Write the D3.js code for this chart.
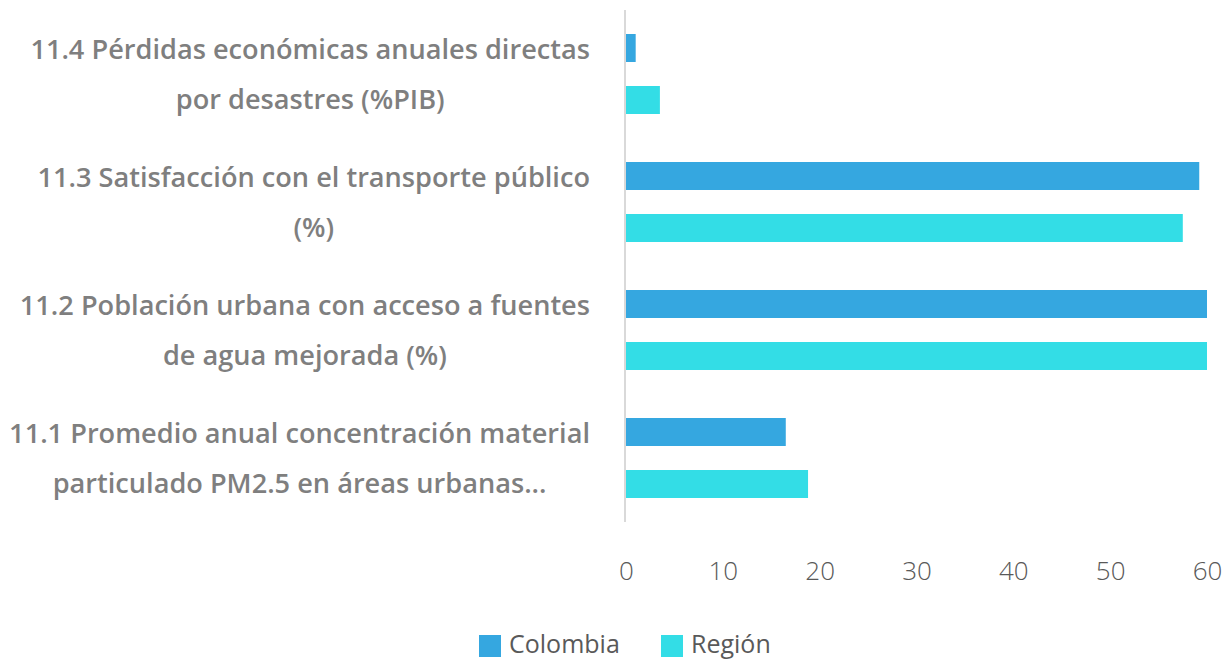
<!DOCTYPE html>
<html>
<head>
<meta charset="utf-8">
<script src="https://cdn.jsdelivr.net/npm/d3@7"></script>
<style>
  body { margin: 0; background: #fff; }
  svg { display: block; }
  .cat { font-family: "Open Sans", sans-serif; font-weight: 600; fill: #7f7f7f; }
  .tick text { font-family: "Open Sans", sans-serif; font-weight: 300; fill: #595959; }
  .legend text { font-family: "Open Sans", sans-serif; font-weight: 400; fill: #595959; }
</style>
</head>
<body>
<div id="chart"></div>
<script>
// categories, top to bottom as in the picture
var categories = [
  "11.4 Pérdidas económicas anuales directas\npor desastres (%PIB)",
  "11.3 Satisfacción con el transporte público\n(%)",
  "11.2 Población urbana con acceso a fuentes\nde agua mejorada (%)",
  "11.1 Promedio anual concentración material\nparticulado PM2.5 en áreas urbanas..."
];
var seriesNames = ["Colombia", "Región"];
var colombia = [1.0, 59.2, 60, 16.5];
var region = [3.5, 57.5, 60, 18.8];
var xTicks = [0, 10, 20, 30, 40, 50, 60];
var colors = ["#35a7e0", "#33dde6"];

var width = 1228, height = 662;
var svg = d3.select("#chart").append("svg")
    .attr("width", width)
    .attr("height", height);

var x = d3.scaleLinear().domain([0, 60]).range([626, 1207]);
var y = d3.scaleBand().domain(categories).range([10, 522]);
var ySub = d3.scaleBand().domain(seriesNames).range([0, y.bandwidth()]).padding(24 / 52);

var rows = categories.map(function(c, i) {
  return { cat: c, values: [
    { name: "Colombia", value: colombia[i] },
    { name: "Región", value: region[i] }
  ]};
});

// bars
var groups = svg.selectAll("g.row")
    .data(rows)
    .enter().append("g")
    .attr("class", "row")
    .attr("transform", function(d) { return "translate(0," + y(d.cat) + ")"; });

groups.selectAll("rect")
    .data(function(d) { return d.values; })
    .enter().append("rect")
    .attr("x", x(0))
    .attr("y", function(d) { return ySub(d.name); })
    .attr("width", function(d) { return x(Math.min(d.value, 60)) - x(0); })
    .attr("height", ySub.bandwidth())
    .attr("fill", function(d, i) { return colors[i]; });

// vertical axis line
svg.append("line")
    .attr("x1", x(0) - 1).attr("x2", x(0) - 1)
    .attr("y1", 10).attr("y2", 522)
    .attr("stroke", "#d9d9d9")
    .attr("stroke-width", 2);

// category labels, centred block whose right edge sits left of the axis
var labelRight = 590;

// pick a font size so the widest first line is about as wide as in the original
var probe = svg.append("text").attr("class", "cat").attr("font-size", 20)
    .text(categories[0].split("\n")[0]);
var fontSize = 20 * 560 / probe.node().getComputedTextLength();
probe.remove();

var cats = svg.selectAll("g.catlabel")
    .data(categories)
    .enter().append("g")
    .attr("class", "catlabel");

cats.each(function(c) {
  var g = d3.select(this);
  var lines = c.split("\n");
  var cy = y(c) + y.bandwidth() / 2;
  var t = g.append("text")
      .attr("class", "cat")
      .attr("font-size", fontSize)
      .attr("text-anchor", "middle");
  lines.forEach(function(l, i) {
    t.append("tspan")
      .attr("y", cy + (i - (lines.length - 1) / 2) * 50)
      .attr("dy", "0.35em")
      .text(l);
  });
  // width of first line sets the block's centre
  var w = t.select("tspan").node().getComputedTextLength();
  t.selectAll("tspan").attr("x", labelRight - w / 2);
});

// x axis
var xAxis = d3.axisBottom(x)
    .tickValues(xTicks)
    .tickSize(0)
    .tickPadding(0);

var ax = svg.append("g")
    .attr("transform", "translate(0,562)")
    .call(xAxis);
ax.select(".domain").remove();
ax.selectAll(".tick text")
    .attr("font-size", 26)
    .attr("dy", "0.71em");

// legend
var legend = svg.append("g").attr("class", "legend");
var lx = [479, 661];
seriesNames.forEach(function(s, i) {
  legend.append("rect")
    .attr("x", lx[i]).attr("y", 635)
    .attr("width", 22).attr("height", 22)
    .attr("fill", colors[i]);
  legend.append("text")
    .attr("x", lx[i] + 30).attr("y", 644)
    .attr("dy", "0.35em")
    .attr("font-size", 25)
    .text(s);
});
</script>
</body>
</html>
